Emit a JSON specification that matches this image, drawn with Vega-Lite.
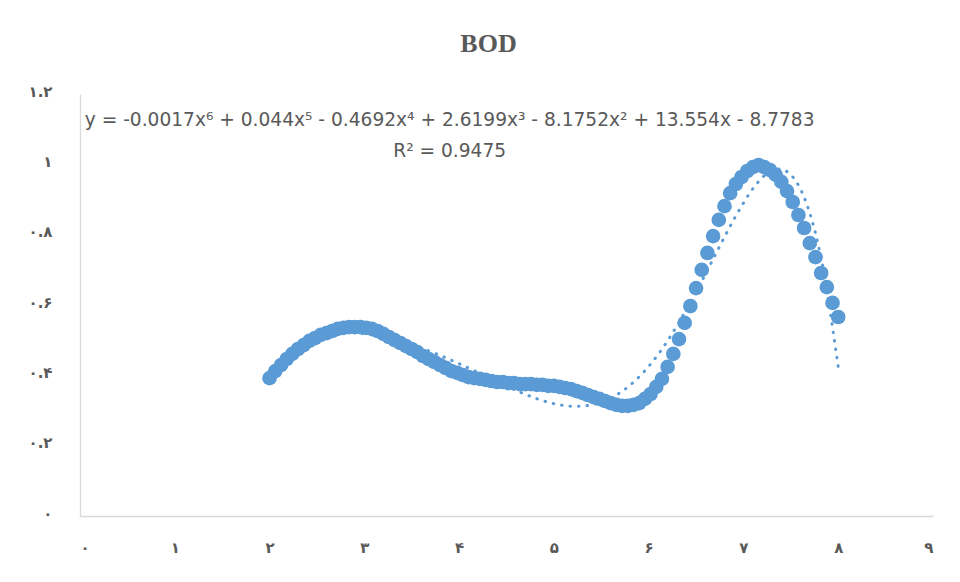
{
  "$schema": "https://vega.github.io/schema/vega-lite/v6.json",
  "width": 853,
  "height": 422,
  "autosize": "none",
  "padding": {"left": 80, "top": 94, "right": 27, "bottom": 66},
  "background": "white",
  "title": {"text": "BOD", "font": "Liberation Serif", "fontSize": 26, "fontWeight": "bold", "color": "#595959", "frame": "group", "anchor": "middle", "offset": 27, "dx": -18},
  "config": {
    "view": {"stroke": null},
    "axis": {"grid": false, "ticks": false, "domainColor": "#d9d9d9", "domainWidth": 1.3, "labelColor": "#595959", "labelFont": "DejaVu Sans", "labelFontSize": 15, "labelFontWeight": "bold", "title": null}
  },
  "data": {"values": [
    {"x": 2.00, "y": 0.392}, {"x": 2.06, "y": 0.412}, {"x": 2.12, "y": 0.429}, {"x": 2.18, "y": 0.446}, {"x": 2.24, "y": 0.461},
    {"x": 2.30, "y": 0.475}, {"x": 2.36, "y": 0.486}, {"x": 2.42, "y": 0.498}, {"x": 2.48, "y": 0.506}, {"x": 2.54, "y": 0.515},
    {"x": 2.60, "y": 0.520}, {"x": 2.66, "y": 0.526}, {"x": 2.72, "y": 0.532}, {"x": 2.78, "y": 0.535}, {"x": 2.84, "y": 0.537},
    {"x": 2.90, "y": 0.537}, {"x": 2.96, "y": 0.537}, {"x": 3.02, "y": 0.535}, {"x": 3.08, "y": 0.532}, {"x": 3.14, "y": 0.526},
    {"x": 3.20, "y": 0.518}, {"x": 3.26, "y": 0.509}, {"x": 3.32, "y": 0.500}, {"x": 3.38, "y": 0.492}, {"x": 3.44, "y": 0.483},
    {"x": 3.50, "y": 0.475}, {"x": 3.56, "y": 0.466}, {"x": 3.62, "y": 0.455}, {"x": 3.68, "y": 0.446}, {"x": 3.74, "y": 0.438},
    {"x": 3.80, "y": 0.429}, {"x": 3.86, "y": 0.421}, {"x": 3.92, "y": 0.412}, {"x": 3.98, "y": 0.407}, {"x": 4.04, "y": 0.401},
    {"x": 4.10, "y": 0.395}, {"x": 4.16, "y": 0.392}, {"x": 4.22, "y": 0.390}, {"x": 4.28, "y": 0.387}, {"x": 4.34, "y": 0.384},
    {"x": 4.40, "y": 0.381}, {"x": 4.46, "y": 0.381}, {"x": 4.52, "y": 0.378}, {"x": 4.58, "y": 0.378}, {"x": 4.64, "y": 0.375},
    {"x": 4.70, "y": 0.375}, {"x": 4.76, "y": 0.375}, {"x": 4.82, "y": 0.373}, {"x": 4.88, "y": 0.373}, {"x": 4.94, "y": 0.370},
    {"x": 5.00, "y": 0.370}, {"x": 5.06, "y": 0.367}, {"x": 5.12, "y": 0.364}, {"x": 5.18, "y": 0.361}, {"x": 5.24, "y": 0.355},
    {"x": 5.30, "y": 0.350}, {"x": 5.36, "y": 0.344}, {"x": 5.42, "y": 0.338}, {"x": 5.48, "y": 0.333}, {"x": 5.54, "y": 0.327},
    {"x": 5.60, "y": 0.321}, {"x": 5.66, "y": 0.316}, {"x": 5.72, "y": 0.313}, {"x": 5.78, "y": 0.313}, {"x": 5.84, "y": 0.316},
    {"x": 5.90, "y": 0.321}, {"x": 5.96, "y": 0.333}, {"x": 6.02, "y": 0.347}, {"x": 6.08, "y": 0.367}, {"x": 6.14, "y": 0.390},
    {"x": 6.20, "y": 0.424}, {"x": 6.26, "y": 0.461}, {"x": 6.32, "y": 0.503}, {"x": 6.38, "y": 0.549}, {"x": 6.44, "y": 0.597},
    {"x": 6.50, "y": 0.648}, {"x": 6.56, "y": 0.700}, {"x": 6.62, "y": 0.748}, {"x": 6.68, "y": 0.796}, {"x": 6.74, "y": 0.842},
    {"x": 6.80, "y": 0.881}, {"x": 6.86, "y": 0.918}, {"x": 6.92, "y": 0.944}, {"x": 6.98, "y": 0.964}, {"x": 7.04, "y": 0.981},
    {"x": 7.10, "y": 0.992}, {"x": 7.16, "y": 0.998}, {"x": 7.22, "y": 0.992}, {"x": 7.28, "y": 0.984}, {"x": 7.34, "y": 0.970},
    {"x": 7.40, "y": 0.950}, {"x": 7.46, "y": 0.924}, {"x": 7.52, "y": 0.893}, {"x": 7.58, "y": 0.856}, {"x": 7.64, "y": 0.819},
    {"x": 7.70, "y": 0.776}, {"x": 7.76, "y": 0.736}, {"x": 7.82, "y": 0.691}, {"x": 7.88, "y": 0.651}, {"x": 7.94, "y": 0.606},
    {"x": 8.00, "y": 0.566}
  ]},
  "layer": [
    {
      "mark": {"type": "circle", "size": 215, "color": "#5b9bd5", "opacity": 1},
      "encoding": {
        "x": {"field": "x", "type": "quantitative", "scale": {"domain": [0, 9], "nice": false, "zero": false},
          "axis": {"values": [0,1,2,3,4,5,6,7,8,9], "format": "d", "labelPadding": 24,
            "labelExpr": "replace(replace(replace(replace(replace(replace(replace(replace(replace(replace(datum.label,'0','۰'),'1','۱'),'2','۲'),'3','۳'),'4','۴'),'5','۵'),'6','۶'),'7','۷'),'8','۸'),'9','۹')"}},
        "y": {"field": "y", "type": "quantitative", "scale": {"domain": [0, 1.2], "nice": false},
          "axis": {"values": [0, 0.2, 0.4, 0.6, 0.8, 1, 1.2], "format": ".1~f", "labelPadding": 28, "labelOffset": -3,
            "labelExpr": "replace(replace(replace(replace(replace(replace(replace(replace(replace(replace(datum.label,'0','۰'),'1','۱'),'2','۲'),'3','۳'),'4','۴'),'5','۵'),'6','۶'),'7','۷'),'8','۸'),'9','۹')"}}
      }
    },
    {
      "transform": [{"regression": "y", "on": "x", "method": "poly", "order": 6, "extent": [2, 8]}],
      "mark": {"type": "line", "color": "#5b9bd5", "strokeWidth": 3, "strokeDash": [0.5, 8], "strokeCap": "round"},
      "encoding": {
        "x": {"field": "x", "type": "quantitative"},
        "y": {"field": "y", "type": "quantitative"}
      }
    },
    {
      "data": {"values": [{}]},
      "mark": {"type": "text", "font": "DejaVu Sans", "fontSize": 18.6, "color": "#595959", "align": "center", "baseline": "alphabetic"},
      "encoding": {
        "x": {"datum": 3.9},
        "y": {"datum": 1.108},
        "text": {"value": "y = -0.0017x⁶ + 0.044x⁵ - 0.4692x⁴ + 2.6199x³ - 8.1752x² + 13.554x - 8.7783"}
      }
    },
    {
      "data": {"values": [{}]},
      "mark": {"type": "text", "font": "DejaVu Sans", "fontSize": 18.6, "color": "#595959", "align": "center", "baseline": "alphabetic"},
      "encoding": {
        "x": {"datum": 3.9},
        "y": {"datum": 1.02},
        "text": {"value": "R² = 0.9475"}
      }
    }
  ]
}
